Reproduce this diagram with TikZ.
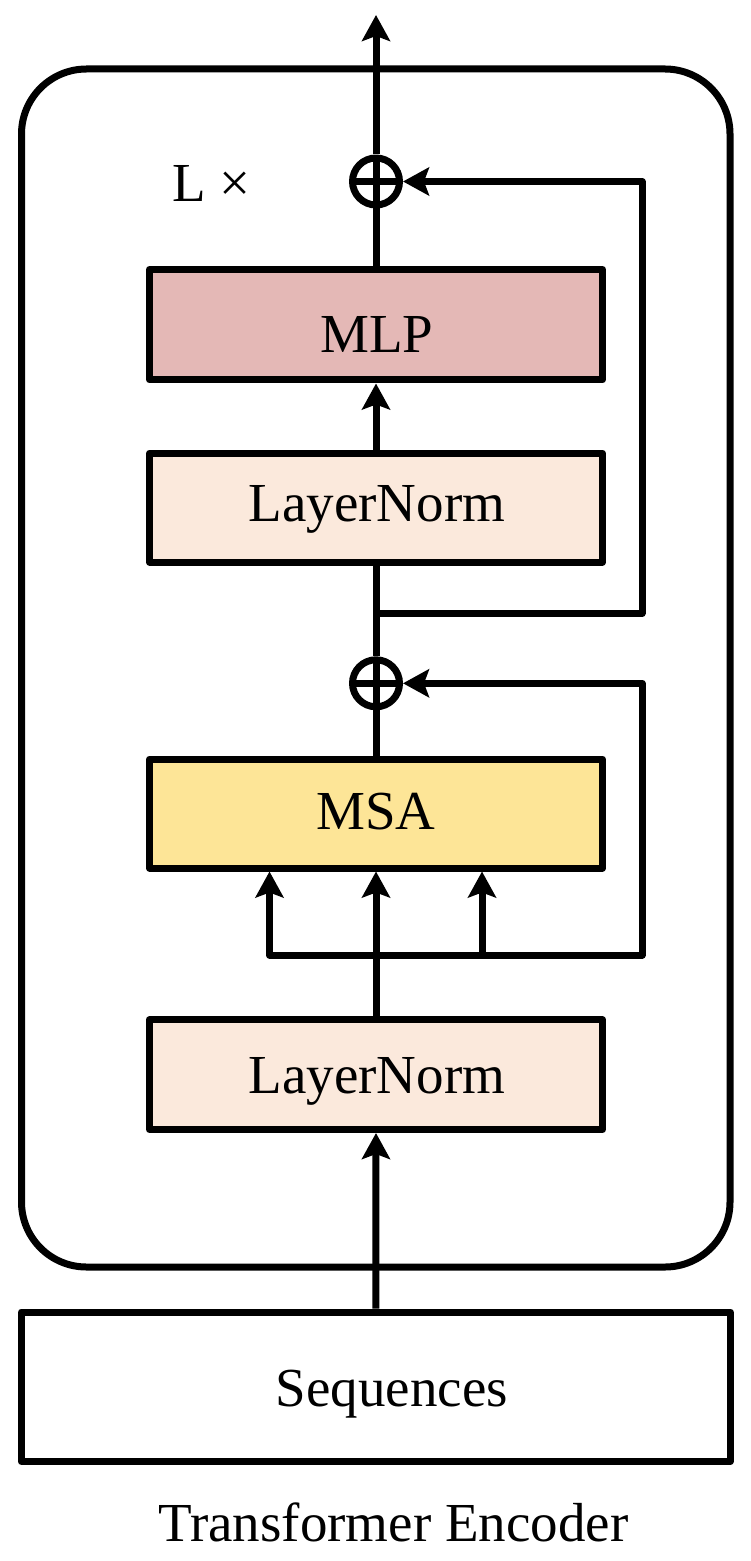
\documentclass[tikz,border=0pt]{standalone}
\usepackage{fontspec}
\setmainfont{Liberation Serif}
\usetikzlibrary{arrows.meta}
\definecolor{mlpc}{RGB}{228,184,182}
\definecolor{lnc}{RGB}{251,233,220}
\definecolor{msac}{RGB}{253,229,151}
\begin{document}
\begin{tikzpicture}[x=0.5pt,y=-0.5pt, line width=3.5pt, line join=round,
  blk/.style={draw, rectangle, minimum width=226.5pt, minimum height=55pt, inner sep=0pt},
  lbl/.style={anchor=base, inner sep=0pt, font=\fontsize{27.5pt}{33pt}\selectfont},
  sumc/.style={draw, circle, fill=white, minimum size=23.5pt, inner sep=0pt,
    path picture={\draw[line width=3.5pt] (path picture bounding box.west) -- (path picture bounding box.east)
      (path picture bounding box.north) -- (path picture bounding box.south);}},
  arr/.style={-{Stealth[length=13pt,width=14pt,inset=2.5pt]}},
  arrb/.style={{Stealth[length=13pt,width=14pt,inset=2.5pt]}-{Stealth[length=13pt,width=14pt,inset=2.5pt]}}
]
\useasboundingbox (0,0) rectangle (750,1561);
% outer encoder frame
\node[draw, rectangle, rounded corners=32.5pt, minimum width=354.25pt, minimum height=599pt, inner sep=0pt] (enc) at (375.75,668) {};
% blocks
\node[blk, fill=white, minimum width=354.5pt, minimum height=74.75pt] (seq) at (375.75,1386.75) {};
\node[blk, fill=lnc, minimum height=54.9pt] (ln1) at (376,1074.6) {};
\node[blk, fill=msac, minimum height=54.5pt] (msa) at (376,813.5) {};
\node[sumc] (p2) at (376,683.3) {};
\node[blk, fill=lnc, minimum height=54.5pt] (ln2) at (376,507.5) {};
\node[blk, fill=mlpc, minimum height=55.25pt] (mlp) at (376,324.75) {};
\node[sumc] (p1) at (376,181.5) {};
% texts
\node[lbl] (tmlp) at (377,353) {MLP};
\node[lbl] (tln2) at (377,521.7) {LayerNorm};
\node[lbl] (tmsa) at (376,829.3) {MSA};
\node[lbl] (tln1) at (377,1093.3) {LayerNorm};
\node[lbl] (tseq) at (392,1406.7) {Sequences};
\node[lbl] (ttitle) at (393.5,1541.7) {Transformer Encoder};
\node[lbl, anchor=base west] (tL) at (169,202) {L ×};
% coordinates
\coordinate (out) at (376,15);
\coordinate (b1) at (376,955);
\coordinate (b1l) at (269.5,955);
\coordinate (b1r) at (482,955);
\coordinate (b1e) at (642,955);
\coordinate (b2) at (376,613.3);
\coordinate (b2e) at (642,613.3);
% connectors
\draw[arr] (seq.north) -- (ln1.south);
\draw (ln1.north) -- (b1);
\draw[arr] (b1) -- (msa.south);
\draw[arrb] (b1l |- msa.south) -- (b1l) -- (b1e) |- (p2.east);
\draw[arr] (b1r) -- (b1r |- msa.south);
\draw (msa.north) -- (p2.south);
\draw (p2.north) -- (ln2.south);
\draw[arr] (b2) -- (b2e) |- (p1.east);
\draw[arr] (ln2.north) -- (mlp.south);
\draw (mlp.north) -- (p1.south);
\draw[arr] (p1.north) -- (out);
\end{tikzpicture}
\end{document}
